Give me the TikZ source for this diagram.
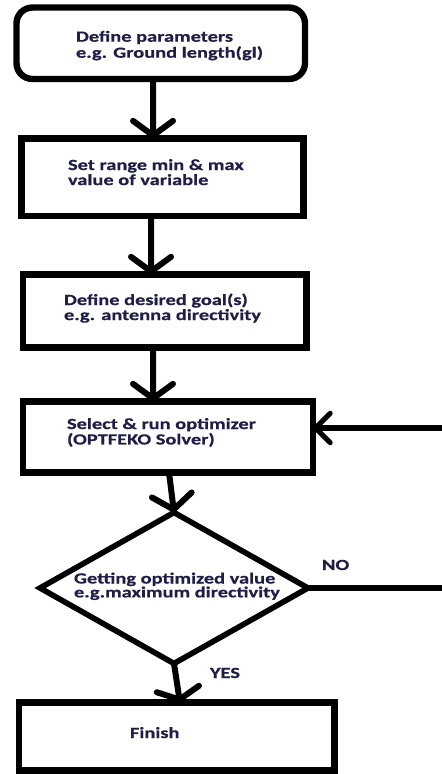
\documentclass[tikz,border=0pt]{standalone}
\usepackage{fontspec}
\newfontfamily\tfont{Carlito}[FakeStretch=1.32,FakeBold=0.6]
\usetikzlibrary{arrows.meta,shapes.geometric}
\definecolor{tcol}{RGB}{30,30,70}
\newcommand\twol[3]{\vtop{\baselineskip=#1\lineskiplimit=-100pt\hbox{#2}\hbox{#3}}}
\begin{document}
\begin{tikzpicture}[x=0.75pt,y=-0.75pt,
 box/.style={draw, line width=4.8pt, inner sep=0pt, outer sep=0pt},
 txt/.style={anchor=base west, inner sep=0pt, outer sep=0pt, text=tcol, font=\tfont\bfseries\fontsize{11.6pt}{12pt}\selectfont},
 arr/.style={line width=4.5pt, -{Straight Barb[length=11pt,width=30pt,round]}},
 lp/.style={line width=3.8pt}
]
\useasboundingbox (0,0) rectangle (442,774);
% shapes
\node[box, rounded corners=12pt, minimum width=216.4pt, minimum height=53.6pt] (b1) at (160.75,43.25) {};
\node[box, minimum width=211.5pt, minimum height=58.1pt] (b2) at (162.5,177.25) {};
\node[box, minimum width=212.6pt, minimum height=54.75pt] (b3) at (164.75,311) {};
\node[box, minimum width=217.5pt, minimum height=53.25pt] (b4) at (168,437) {};
\node[draw, diamond, line width=4.2pt, inner sep=0pt, outer sep=0pt, minimum width=201pt, minimum height=113.25pt] (dia) at (174,588) {};
\node[box, minimum width=236.6pt, minimum height=51pt] (b5) at (176.75,736.5) {};
% texts
\node[txt] (t1) at (76,41.7) {\twol{12pt}{Define parameters}{e.g. Ground length(gl)}};
\node[txt] (t2) at (68,170) {\twol{11.3pt}{Set range min \& max}{value of variable}};
\node[txt] (t3) at (64,305) {\twol{11.3pt}{Define desired goal(s)}{e.g. antenna directivity}};
\node[txt] (t4) at (67,429) {\twol{11.6pt}{Select \& run optimizer}{(OPTFEKO Solver)}};
\node[txt] (t5) at (74,583.5) {\twol{10.4pt}{Getting optimized value}{e.g.maximum directivity}};
\node[txt] (no) at (322,570) {NO};
\node[txt] (yes) at (210,678) {YES};
\node[txt] (fin) at (130,738) {Finish};
% connectors
\draw[arr] ([xshift=-5.8pt]b1.south) -- ([xshift=-7.1pt]b2.north);
\draw[arr] ([xshift=-8.6pt]b2.south) -- ([xshift=-10.3pt]b3.north);
\draw[arr] ([xshift=-8.8pt]b3.south) -- ([xshift=-11.25pt]b4.north);
\draw[arr] ([xshift=0.75pt]b4.south) -- (dia.north);
\draw[arr, -{Straight Barb[length=8pt,width=32pt,round]}] (dia.south) -- ([xshift=2.4pt]b5.north);
\coordinate (r1) at (442,428);
\coordinate (r2) at (442,588);
\draw[lp, -{Straight Barb[length=11pt,width=22pt,round]}] (r1) -- ([yshift=6.75pt]b4.east);
\draw[lp] (dia.east) -- (r2);
\end{tikzpicture}
\end{document}
